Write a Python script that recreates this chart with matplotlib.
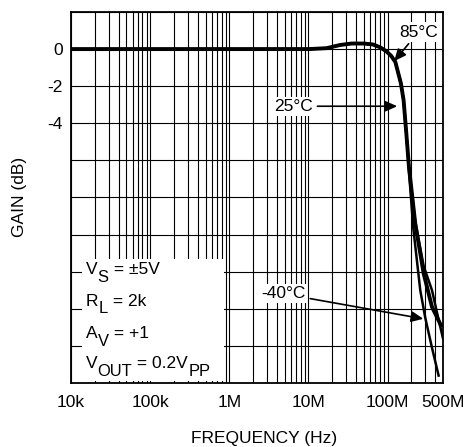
import numpy as np
import matplotlib.pyplot as plt
from matplotlib.patches import Rectangle
from matplotlib.ticker import FixedLocator, FixedFormatter, LogLocator, NullFormatter

plt.rcParams['font.family'] = ['Liberation Sans', 'DejaVu Sans']

# shared part of the response (Hz, dB)
f_common = [1e4, 1e7, 1.7e7, 2.5e7, 3.5e7, 5e7, 6.5e7, 8e7, 9.5e7, 1.1e8,
            1.25e8, 1.47e8, 1.59e8, 1.72e8, 1.86e8]
g_common = [0, 0, 0.05, 0.22, 0.3, 0.3, 0.25, 0.1, -0.1, -0.35,
            -0.69, -1.85, -2.76, -4.54, -6.38]

# tails after the curves split
f_85 = [2.23e8, 2.85e8, 3.63e8, 4.3e8, 5e8]
g_85 = [-9.3, -11.7, -13.0, -14.4, -15.6]
f_25 = [2.23e8, 2.85e8, 3.63e8, 4.72e8]
g_25 = [-9.4, -12.1, -13.9, -14.9]
f_m40 = [2.1e8, 2.58e8, 2.99e8, 3.63e8, 4.4e8]
g_m40 = [-9.6, -13.0, -14.5, -16.1, -17.6]

xticks = [1e4, 1e5, 1e6, 1e7, 1e8, 5e8]
xlabels = ['10k', '100k', '1M', '10M', '100M', '500M']
yticks = list(range(-18, 3, 2))
ylabels = ['0' if v == 0 else ('-2' if v == -2 else ('-4' if v == -4 else '')) for v in yticks]

# test conditions: (text, is_subscript) pieces per line
cond = [[('V', 0), ('S', 1), (' = ±5V', 0)],
        [('R', 0), ('L', 1), (' = 2k', 0)],
        [('A', 0), ('V', 1), (' = +1', 0)],
        [('V', 0), ('OUT', 1), (' = 0.2V', 0), ('PP', 1)]]
cond_y = [-12.3, -14.0, -15.75, -17.35]

FS = 12.5

fig = plt.figure(figsize=(4.74, 4.47), dpi=100)
ax = fig.add_axes([71/474, 1-383/447, 372/474, 371/447])

ax.set_xscale('log')
ax.set_xlim(1e4, 5e8)
ax.set_ylim(-18, 2)

ax.xaxis.set_major_locator(FixedLocator(xticks))
ax.xaxis.set_major_formatter(FixedFormatter(xlabels))
ax.xaxis.set_minor_locator(LogLocator(base=10, subs=np.arange(2, 10)))
ax.xaxis.set_minor_formatter(NullFormatter())
ax.yaxis.set_major_locator(FixedLocator(yticks))
ax.yaxis.set_major_formatter(FixedFormatter(ylabels))
ax.tick_params(which='both', length=0, labelsize=FS, colors='black')
ax.tick_params(axis='x', pad=8.5)
ax.tick_params(axis='y', pad=6)

ax.set_axisbelow(True)
ax.grid(which='both', color='black', lw=0.8)
for s in ax.spines.values():
    s.set_linewidth(1.3)

# white box for the conditions
ax.add_patch(Rectangle((1.38e4, -17.9), 8.59e5 - 1.38e4, 6.6, facecolor='white',
                       edgecolor='none', zorder=1.5))
for parts, yy in zip(cond, cond_y):
    prev = ax.text(1.55e4, yy, parts[0][0], fontsize=FS, va='bottom', ha='left', zorder=3)
    was_sub = False
    for txt, sub in parts[1:]:
        dy = -5.5 if sub else (5.5 if was_sub else 0)
        prev = ax.annotate(txt, xy=(1, 0), xycoords=prev, xytext=(0, dy),
                           textcoords='offset points', fontsize=FS * (0.95 if sub else 1),
                           va='bottom', ha='left', zorder=3)
        was_sub = bool(sub)

ax.plot(f_common + f_m40, g_common[:-1] + [-6.6] + g_m40, color='black', lw=1.8, zorder=4)
ax.plot(f_common + f_85, g_common + g_85, color='black', lw=1.8, zorder=4)
ax.plot(f_common + f_25, g_common + g_25, color='black', lw=2.8, zorder=4)

ap = dict(arrowstyle='-|>,head_length=0.6,head_width=0.27', color='black', lw=1.2,
          shrinkA=2, shrinkB=0, mutation_scale=12)
bb = dict(facecolor='white', edgecolor='none', pad=1.5)
ax.annotate('85°C', xy=(1.21e8, -0.65), xytext=(2.44e8, 0.92), fontsize=FS,
            ha='center', va='center', bbox=bb, arrowprops=ap, zorder=5)
ax.annotate('25°C', xy=(1.32e8, -3.08), xytext=(6.4e6, -3.08), fontsize=FS,
            ha='center', va='center', bbox=bb, arrowprops=ap, zorder=5)
ax.annotate('-40°C', xy=(2.82e8, -14.54), xytext=(4.79e6, -13.19), fontsize=FS,
            ha='center', va='center', bbox=bb, arrowprops=ap, zorder=5)

fig.text(264/474, 1-439/447, 'FREQUENCY (Hz)', fontsize=FS, ha='center', va='center')
fig.text(20/474, 1-197/447, 'GAIN (dB)', fontsize=FS, ha='center', va='center',
         rotation=90)

fig.savefig('out.png', dpi=100)
